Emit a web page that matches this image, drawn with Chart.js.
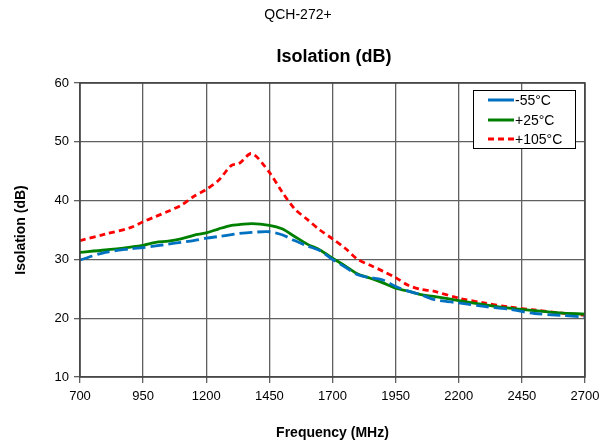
<!DOCTYPE html>
<html>
<head>
<meta charset="utf-8">
<script src="https://cdn.jsdelivr.net/npm/chart.js@4"></script>
<style>
html,body{margin:0;padding:0;background:#fff;}
canvas{display:block;}
</style>
</head>
<body>
<canvas id="c" width="611" height="446"></canvas>
<script>
const chartTitle = "QCH-272+";
const plotTitle = "Isolation (dB)";
const xTitle = "Frequency (MHz)";
const yTitle = "Isolation (dB)";
const xTicks = [700, 950, 1200, 1450, 1700, 1950, 2200, 2450, 2700];
const yTicks = [10, 20, 30, 40, 50, 60];
const seriesNames = ["-55°C", "+25°C", "+105°C"];

const freq = [700, 800, 900, 950, 1000, 1050, 1100, 1150, 1200, 1250, 1300, 1330, 1380, 1450, 1500, 1550, 1600, 1650, 1700, 1750, 1800, 1850, 1900, 1950, 2000, 2050, 2100, 2200, 2300, 2400, 2500, 2600, 2700];
const isoM55 = [29.9, 31.2, 31.8, 32.0, 32.3, 32.6, 32.9, 33.2, 33.6, 33.9, 34.2, 34.4, 34.6, 34.7, 34.2, 33.2, 32.3, 31.5, 30.0, 28.7, 27.4, 26.9, 26.5, 25.4, 24.6, 24.0, 23.2, 22.6, 22.0, 21.5, 20.8, 20.5, 20.2];
const isoP25 = [31.2, 31.6, 32.1, 32.4, 32.9, 33.1, 33.5, 34.1, 34.5, 35.2, 35.8, 35.9, 36.1, 35.8, 35.2, 33.9, 32.6, 31.6, 30.2, 28.9, 27.5, 26.8, 26.0, 25.1, 24.6, 24.0, 23.7, 23.0, 22.3, 21.7, 21.3, 20.9, 20.7];
const isoP105 = [33.2, 34.3, 35.4, 36.4, 37.3, 38.2, 39.2, 40.7, 41.9, 43.5, 46.0, 46.3, 48.0, 44.8, 41.5, 38.6, 36.8, 35.0, 33.5, 31.9, 30.0, 29.0, 28.0, 26.9, 25.6, 24.9, 24.6, 23.4, 22.6, 21.9, 21.4, 20.9, 20.5];

const colors = ["#0070C0", "#008000", "#FF0000"];
const dashes = [[13, 5], [], [6, 4]];
const legendDashes = [[], [], [6, 4]];
const seriesVals = [isoM55, isoP25, isoP105];

const datasets = seriesVals.map((vals, i) => ({
  label: seriesNames[i],
  data: freq.map((f, k) => ({x: f, y: vals[k]})),
  borderColor: colors[i],
  backgroundColor: colors[i],
  borderWidth: 2.8,
  borderDash: dashes[i],
  pointRadius: 0,
  tension: 0.3,
  fill: false
}));

const FONT = "'Liberation Sans', Arial, sans-serif";

const decor = {
  id: 'decor',
  afterDraw(chart) {
    const ctx = chart.ctx;
    const a = chart.chartArea;
    ctx.save();
    ctx.strokeStyle = '#404040';
    ctx.lineWidth = 1.5;
    ctx.strokeRect(a.left, a.top, a.right - a.left, a.bottom - a.top);
    ctx.fillStyle = '#000';
    ctx.textAlign = 'center';
    ctx.textBaseline = 'middle';
    ctx.font = "14px " + FONT;
    ctx.fillText(chartTitle, 298, 15);
    ctx.font = "bold 18px " + FONT;
    ctx.fillText(plotTitle, 334, 57);
    const bx = 473, by = 90, bw = 102, bh = 58;
    ctx.fillStyle = '#fff';
    ctx.fillRect(bx, by, bw, bh);
    ctx.strokeStyle = '#000';
    ctx.lineWidth = 1;
    ctx.strokeRect(bx + 0.5, by + 0.5, bw, bh);
    const rows = [100, 120, 139];
    chart.data.datasets.forEach((ds, i) => {
      ctx.strokeStyle = ds.borderColor;
      ctx.lineWidth = 3;
      ctx.setLineDash(legendDashes[i]);
      ctx.beginPath();
      ctx.moveTo(488, rows[i]);
      ctx.lineTo(514, rows[i]);
      ctx.stroke();
      ctx.setLineDash([]);
      ctx.fillStyle = '#000';
      ctx.textAlign = 'left';
      ctx.font = "14px " + FONT;
      ctx.fillText(ds.label, 515, rows[i] + 1);
    });
    ctx.restore();
  }
};

new Chart(document.getElementById('c'), {
  type: 'line',
  data: {datasets},
  options: {
    responsive: false,
    animation: false,
    layout: {padding: {top: 83, right: 26, left: 0, bottom: 0}},
    plugins: {legend: {display: false}, title: {display: false}, tooltip: {enabled: false}},
    scales: {
      x: {
        type: 'linear',
        min: 700, max: 2700,
        afterBuildTicks: s => { s.ticks = xTicks.map(v => ({value: v})); },
        afterFit: s => { s.height = 69; },
        grid: {color: '#606060', lineWidth: 1.3, tickLength: 6, tickColor: '#606060'},
        border: {display: false},
        ticks: {color: '#000', font: {size: 13, family: FONT}, padding: 6, maxRotation: 0, callback: v => String(v)},
        title: {display: true, text: xTitle, color: '#000', font: {size: 14, weight: 'bold', family: FONT}, padding: {top: 14, bottom: 4}}
      },
      y: {
        min: 10, max: 60,
        afterBuildTicks: s => { s.ticks = yTicks.map(v => ({value: v})); },
        afterFit: s => { s.width = 80; },
        grid: {color: '#606060', lineWidth: 1.3, tickLength: 6, tickColor: '#606060'},
        border: {display: false},
        ticks: {color: '#000', font: {size: 13, family: FONT}, padding: 5, callback: v => String(v)},
        title: {display: true, text: yTitle, color: '#000', font: {size: 14, weight: 'bold', family: FONT}, padding: {top: 13, bottom: 4}}
      }
    }
  },
  plugins: [decor]
});
</script>
</body>
</html>
